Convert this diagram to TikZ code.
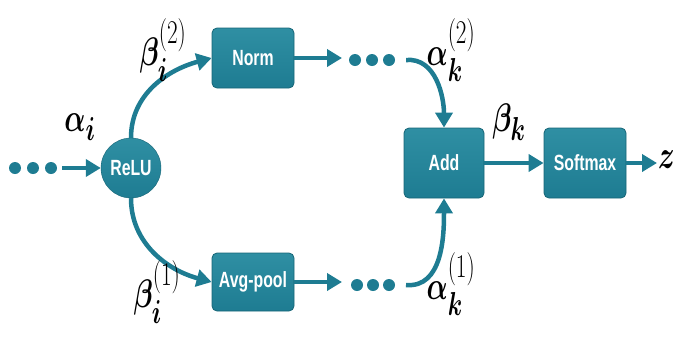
\documentclass[tikz,border=0pt]{standalone}
\usepackage{amsmath}
\usepackage{fontspec}
\setsansfont{Liberation Sans}
\newfontfamily\boxfont{Liberation Sans}[FakeStretch=0.72]
\usepackage{bm}
\usetikzlibrary{arrows.meta,shapes.geometric}
\definecolor{tealA}{HTML}{1E7C92}
\definecolor{tealB}{HTML}{166576}
\definecolor{tealL}{HTML}{2F8FA3}
\newcommand{\lab}[1]{\scalebox{1.12}[1.6]{$#1$}}
\begin{document}
\begin{tikzpicture}[x=1pt,y=-1pt]
\useasboundingbox (0,0) rectangle (676,338);
\tikzset{
 blk/.style={draw=tealB, line width=0.8pt, top color=tealL, bottom color=tealA, rounded corners=5pt,
   minimum width=82pt, minimum height=60pt, text=white, inner sep=0pt,
   font=\boxfont\bfseries\fontsize{22}{22}\selectfont},
 flow/.style={draw=tealA, line width=4.5pt, -{Triangle[length=15pt,width=17pt]}},
 dotn/.style={circle, fill=tealA, inner sep=0pt, minimum size=12pt},
 lbl/.style={font=\fontsize{24.88}{26}\selectfont, inner sep=0pt}
}
% left dots
\node[dotn] (l1) at (15,168) {};
\node[dotn] (l2) at (33,168) {};
\node[dotn] (l3) at (51,168) {};
% ReLU
\node[ellipse, draw=tealB, top color=tealL, bottom color=tealA, minimum width=60pt, minimum height=60pt, inner sep=0pt,
  text=white, font=\boxfont\bfseries\fontsize{22}{22}\selectfont] (relu) at (131,168) {ReLU};
% boxes
\node[blk] (norm) at (253,58) {Norm};
\node[blk, minimum height=58pt] (avg) at (253,282) {Avg-pool};
\node[blk, minimum width=80pt, minimum height=70pt] (add) at (444,163) {Add};
\node[blk, minimum width=82pt, minimum height=70pt] (soft) at (585,163) {Softmax};
% top dots
\node[dotn] (t1) at (355,60) {};
\node[dotn] (t2) at (372,60) {};
\node[dotn] (t3) at (389,60) {};
% bottom dots
\node[dotn] (b1) at (357,285) {};
\node[dotn] (b2) at (373,285) {};
\node[dotn] (b3) at (389,285) {};
\coordinate (tc) at (406,60);
\coordinate (bc) at (406,285);
\coordinate (ne) at (342,58);
\coordinate (ae) at (342,282);
\coordinate (ls) at (62,168);
\coordinate (ze) at (657,163);
% output
\node[lbl, anchor=east] (z) at (675,160) {\lab{\bm{z}}};
% connectors
\draw[flow] (ls) -- (relu.west);
\draw[flow] (relu.north) to[out=90,in=195] (norm.west);
\draw[flow] (relu.south) to[out=-90,in=165] (avg.west);
\draw[flow] (norm.east) -- (ne);
\draw[flow] (avg.east) -- (ae);
\draw[flow] (tc) to[out=5,in=90] (add.north);
\draw[flow] (bc) to[out=-5,in=-90] (add.south);
\draw[flow] (add.east) -- (soft.west);
\draw[flow] (soft.east) -- (ze);
% labels
\node[lbl] (la) at (80,127) {\lab{\bm{\alpha}_{\bm{i}}}};
\node[lbl] (lb2) at (163,50) {\lab{\bm{\beta}_{\bm{i}}^{(2)}}};
\node[lbl] (lb1) at (157,292) {\lab{\bm{\beta}_{\bm{i}}^{(1)}}};
\node[lbl] (la2) at (451,50) {\lab{\bm{\alpha}_{\bm{k}}^{(2)}}};
\node[lbl] (la1) at (451,284) {\lab{\bm{\alpha}_{\bm{k}}^{(1)}}};
\node[lbl] (lbk) at (509,122) {\lab{\bm{\beta}_{\bm{k}}}};
\end{tikzpicture}
\end{document}
